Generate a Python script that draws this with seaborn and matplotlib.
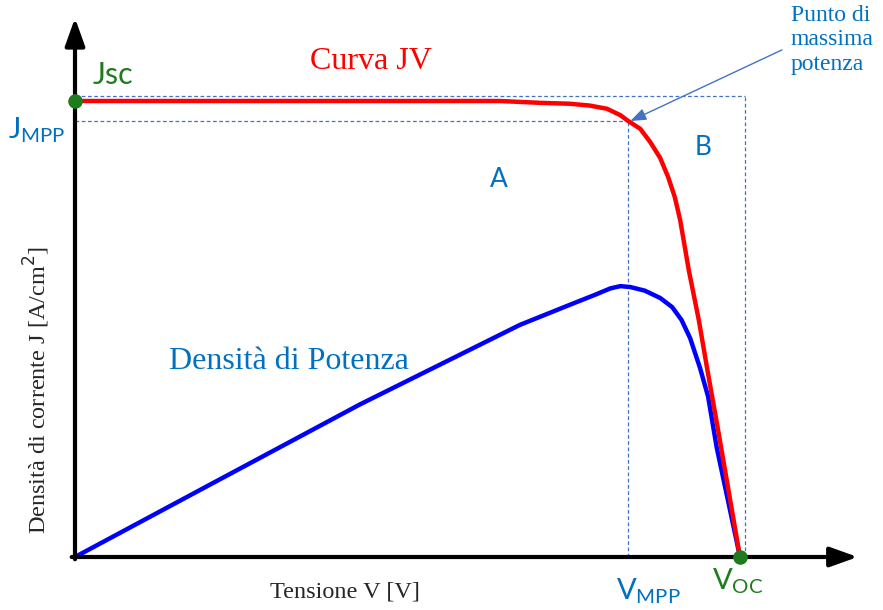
import matplotlib

matplotlib.use("Agg")

import matplotlib.pyplot as plt  # noqa: E402
import pandas as pd  # noqa: E402
import seaborn as sns  # noqa: E402

# JV curve (normalised units: V in V_oc, J in J_sc)
jv_voltage = [0.0, 0.338, 0.639, 0.699, 0.744, 0.774, 0.800, 0.820, 0.832,
              0.850, 0.865, 0.880, 0.892, 0.902, 0.910, 0.923, 0.938, 0.951,
              0.967, 1.0]
jv_current = [1.0, 1.0, 1.0, 0.996, 0.994, 0.990, 0.983, 0.969, 0.956,
              0.939, 0.910, 0.875, 0.833, 0.789, 0.739, 0.629, 0.520, 0.410,
              0.279, 0.0]

# power density curve (same plotting scale)
p_voltage = [0.0, 0.188, 0.429, 0.669, 0.744, 0.782, 0.805, 0.820, 0.835,
             0.857, 0.880, 0.898, 0.912, 0.925, 0.940, 0.952, 0.965, 1.0]
p_density = [0.0, 0.147, 0.335, 0.509, 0.553, 0.575, 0.589, 0.594, 0.592,
             0.584, 0.568, 0.548, 0.520, 0.480, 0.414, 0.352, 0.240, 0.0]

V_OC, J_SC = 1.0, 1.0
V_MPP, J_MPP = 0.832, 0.956
BOX_V, BOX_J = 1.008, 1.01

SERIF = "Liberation Serif"
SANS = "Lato"
TXT_BLUE = "#0070C0"
GREEN = "#1E7B1E"
DASH = "#4472C4"

sns.set_theme(style="white")
plt.rcParams["font.family"] = [SERIF, "DejaVu Sans"]

fig = plt.figure(figsize=(8.83, 6.10), dpi=100)
ax = fig.add_axes([0, 0, 1, 1])
ax.set_xlim(-75 / 665, 808 / 665)
ax.set_ylim(-53 / 456, 557 / 456)
ax.axis("off")

jv_df = pd.DataFrame({"V": jv_voltage, "J": jv_current})
p_df = pd.DataFrame({"V": p_voltage, "P": p_density})

# dashed guide lines
dash_kw = dict(color=DASH, lw=0.9, ls=(0, (3, 2)), zorder=1)
ax.plot([0, V_MPP], [J_MPP, J_MPP], **dash_kw)
ax.plot([V_MPP, V_MPP], [0, J_MPP], **dash_kw)
ax.plot([0, BOX_V], [BOX_J, BOX_J], **dash_kw)
ax.plot([BOX_V, BOX_V], [0, BOX_J], **dash_kw)

sns.lineplot(data=jv_df, x="V", y="J", sort=False, color="#FF0000", lw=3.2,
             ax=ax, zorder=3, solid_joinstyle="round")
sns.lineplot(data=p_df, x="V", y="P", sort=False, color="#0000FF", lw=3.2,
             ax=ax, zorder=2, solid_joinstyle="round")

# axes with arrow heads
arrow_kw = dict(arrowstyle="-|>,head_length=1.4,head_width=0.5", color="black",
                lw=3, shrinkA=0, shrinkB=0)
ax.annotate("", xy=(0, 1.182), xytext=(0, -0.005), arrowprops=arrow_kw, zorder=4)
ax.annotate("", xy=(1.177, 0), xytext=(-0.005, 0), arrowprops=arrow_kw, zorder=4)

# Jsc and Voc markers
ax.scatter([0, V_OC], [J_SC, 0], s=110, color=GREEN, zorder=5, linewidths=0)

# labels
ax.text(0.445, 1.086, "Curva JV", color="red", fontsize=23, ha="center",
        va="center")
ax.text(0.322, 0.428, "Densità di Potenza", color=TXT_BLUE, fontsize=23,
        ha="center", va="center")
ax.text(0.027, 1.057, "Jsc", color=GREEN, fontsize=22, family=SANS,
        ha="left", va="center")
ax.text(-0.057, 0.935, r"$\mathregular{J_{MPP}}$", color=TXT_BLUE, fontsize=21,
        family=SANS, ha="center", va="center")
ax.text(0.638, 0.827, "A", color=TXT_BLUE, fontsize=19, family=SANS,
        ha="center", va="center")
ax.text(0.944, 0.897, "B", color=TXT_BLUE, fontsize=19, family=SANS,
        ha="center", va="center")
ax.text(0.862, -0.075, r"$\mathregular{V_{MPP}}$", color=TXT_BLUE, fontsize=21,
        family=SANS, ha="center", va="center")
ax.text(0.997, -0.053, r"$\mathregular{V_{OC}}$", color=GREEN, fontsize=21,
        family=SANS, ha="center", va="center")
ax.text(1.076, 1.21, "Punto di\nmassima\npotenza", color=TXT_BLUE,
        fontsize=17, ha="left", va="top", linespacing=1.2)
ax.annotate("", xy=(V_MPP + 0.003, J_MPP), xytext=(1.063, 1.112),
            arrowprops=dict(arrowstyle="-|>,head_length=0.8,head_width=0.3",
                            color=DASH, lw=1, shrinkA=0, shrinkB=0), zorder=6)

ax.text(-0.057, 0.366, "Densità di corrente J [A/cm$^2$]", rotation=90,
        fontsize=17.5, ha="center", va="center")
ax.text(0.406, -0.077, "Tensione V [V]", fontsize=17.5, ha="center",
        va="center")

fig.savefig("out.png", dpi=100)
